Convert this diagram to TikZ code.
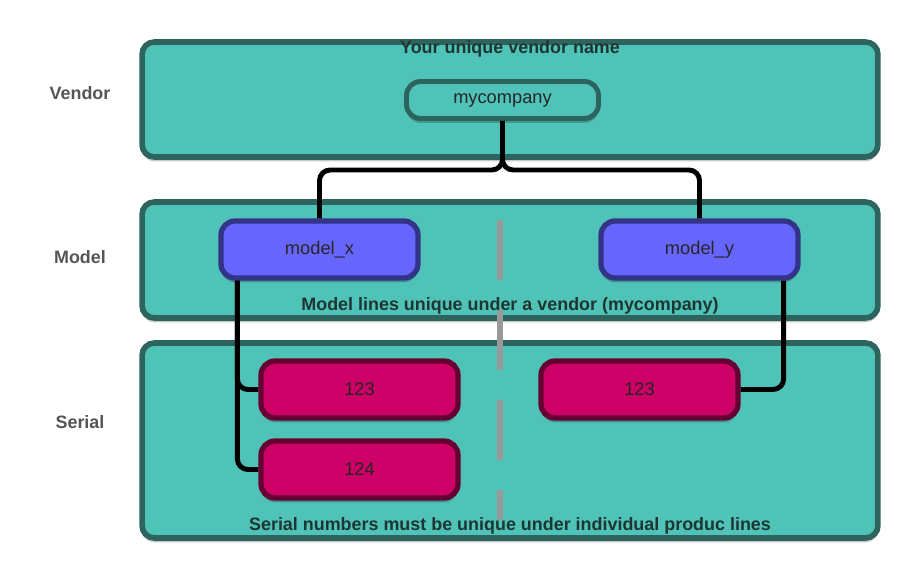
\documentclass[tikz,border=0pt]{standalone}
\usepackage{fontspec}
\setmainfont{Liberation Sans}
\usetikzlibrary{shadows}

\definecolor{bandfill}{HTML}{4FC3B8}
\definecolor{banddark}{HTML}{2D645E}
\definecolor{modelfill}{HTML}{6666FF}
\definecolor{modeldark}{HTML}{333388}
\definecolor{serialfill}{HTML}{CC0066}
\definecolor{serialdark}{HTML}{660033}
\definecolor{titletext}{HTML}{1E3532}
\definecolor{sidetext}{HTML}{555555}

\begin{document}
\begin{tikzpicture}[x=0.02cm, y=-0.02cm,
    softshadow/.style={drop shadow={shadow xshift=0pt, shadow yshift=-2.5pt, opacity=0.22, fill=black}},
    band/.style={draw=banddark, fill=bandfill, line width=3.2pt, rounded corners=7pt,
        minimum width=14.72cm, softshadow},
    box/.style={line width=3pt, rounded corners=8pt, minimum width=3.94cm,
        minimum height=1.14cm, text=black!85, font=\fontsize{10.4}{12}\selectfont, softshadow},
    modelbox/.style={box, draw=modeldark, fill=modelfill},
    serialbox/.style={box, draw=serialdark, fill=serialfill},
    sidelabel/.style={text=sidetext, font=\bfseries\fontsize{10.2}{12}\selectfont},
    bandtitle/.style={text=titletext, font=\bfseries\fontsize{10.2}{12}\selectfont},
    wire/.style={draw=black, line width=2.8pt, rounded corners=6pt},
    divider/.style={draw=black!40, line width=3pt, dash pattern=on 1.2cm off 0.6cm}]
    \useasboundingbox (0,0) rectangle (920,580);

    % Bands
    \node[band, minimum height=2.3cm] (vendorband) at (510,99.5) {};
    \node[band, minimum height=2.32cm] (modelband) at (510,260) {};
    \node[band, minimum height=3.9cm] (serialband) at (510,440.5) {};

    % Row names on the left
    \node[sidelabel] (vendorlbl) at (80,93) {Vendor};
    \node[sidelabel] (modellbl) at (80,257) {Model};
    \node[sidelabel] (seriallbl) at (80,422) {Serial};

    % Divider between the two product lines
    \coordinate (divtop) at (500,220);
    \coordinate (divbot) at (500,520);
    \draw[divider] (divtop) -- (divbot);

    % Band titles
    \node[bandtitle] (vendortitle) at (510,49) {Your unique vendor name};
    \node[bandtitle] (modeltitle) at (510,306) {Model lines unique under a vendor (mycompany)};
    \node[bandtitle] (serialtitle) at (510,526) {Serial numbers must be unique under individual produc lines};

    % Vendor
    \node[box, draw=banddark, fill=bandfill, line width=2.8pt, minimum width=3.84cm,
        minimum height=0.74cm] (myco) at (502.5,100) {mycompany};

    % Models
    \node[modelbox] (modx) at (319.5,249.5) {model\_x};
    \node[modelbox] (mody) at (699.5,249.5) {model\_y};

    % Serials
    \node[serialbox] (serxa) at (359.5,389.5) {123};
    \node[serialbox] (serxb) at (359.5,469.5) {124};
    \node[serialbox] (serya) at (639.5,389.5) {123};

    % Vendor to models
    \coordinate (split) at (502,170);
    \draw[wire] (myco.south) |- (modx.north |- split) -- (modx.north);
    \draw[wire] (myco.south) |- (mody.north |- split) -- (mody.north);

    % Models to serials
    \draw[wire] ([xshift=0.38cm]modx.south west) |- (serxa.west);
    \draw[wire] ([xshift=0.38cm]modx.south west) |- (serxb.west);
    \draw[wire] ([xshift=-0.34cm]mody.south east) |- (serya.east);

\end{tikzpicture}
\end{document}
